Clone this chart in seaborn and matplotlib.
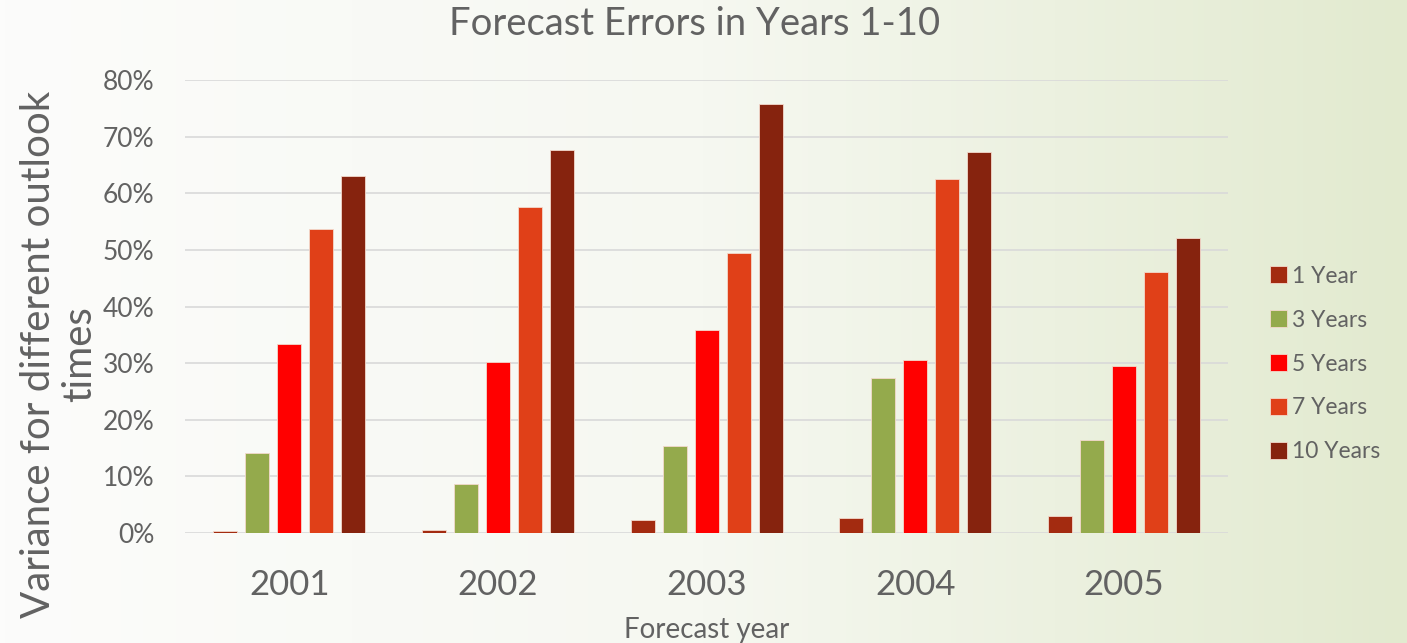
import numpy as np
import pandas as pd
import matplotlib
matplotlib.use("Agg")
import matplotlib.pyplot as plt
import seaborn as sns
from matplotlib.colors import LinearSegmentedColormap

years = ["2001", "2002", "2003", "2004", "2005"]
series = ["1 Year", "3 Years", "5 Years", "7 Years", "10 Years"]
v_1y = [0.3, 0.5, 2.3, 2.6, 3.0]
v_3y = [14.1, 8.7, 15.4, 27.3, 16.4]
v_5y = [33.4, 30.2, 35.9, 30.5, 29.5]
v_7y = [53.7, 57.6, 49.5, 62.6, 46.1]
v_10y = [63.0, 67.6, 75.7, 67.3, 52.1]
colors = ["#A32B10", "#94AA4C", "#FF0000", "#E04018", "#86230E"]
yticks = [0, 10, 20, 30, 40, 50, 60, 70, 80]

rows = []
for s, vals in zip(series, [v_1y, v_3y, v_5y, v_7y, v_10y]):
    for y, v in zip(years, vals):
        rows.append({"year": y, "outlook": s, "value": v / 100.0})
df = pd.DataFrame(rows)

sns.set_theme(style="white")
plt.rcParams["font.family"] = ["Lato", "DejaVu Sans"]
textc = "#626262"

fig = plt.figure(figsize=(14.07, 6.43), dpi=100)
# background gradient
bg = fig.add_axes([0, 0, 1, 1], zorder=-10)
grad = np.linspace(0, 1, 256).reshape(1, -1)
cmap = LinearSegmentedColormap.from_list("bg", ["#FCFCFB", "#F6F8F1", "#E2EACF"])
bg.imshow(grad, aspect="auto", cmap=cmap, extent=[0, 1, 0, 1])
bg.axis("off")

ax = fig.add_axes([0.1315, 0.171, 0.7415, 0.7046])
ax.patch.set_alpha(0)
sns.barplot(data=df, x="year", y="value", hue="outlook", hue_order=series,
            palette=colors, saturation=1, width=0.767, gap=0.25, ax=ax,
            edgecolor="#f3d9cc", linewidth=0.6, zorder=3)

ax.set_ylim(0, 0.8)
ax.set_yticks([t / 100 for t in yticks])
ax.set_yticklabels([f"{t}%" for t in yticks], fontsize=19, color=textc)
ax.tick_params(axis="x", labelsize=25, labelcolor=textc, length=0, pad=26)
ax.tick_params(axis="y", length=0, pad=22)
ax.yaxis.grid(True, color="#D9D9D9", linewidth=1.2, zorder=0)
ax.set_axisbelow(True)
for sp in ax.spines.values():
    sp.set_visible(False)

ax.set_xlabel("Forecast year", fontsize=20, color=textc)
ax.xaxis.set_label_coords(0.5, -0.185)
ax.set_ylabel("Variance for different outlook\ntimes", fontsize=29, color=textc,
              linespacing=1.15)
ax.yaxis.set_label_coords(-0.083, 0.395)
fig.text(0.494, 0.963, "Forecast Errors in Years 1-10", ha="center", va="center",
         fontsize=27.5, color=textc)

handles, labels = ax.get_legend_handles_labels()
ax.legend(handles, labels, loc="center left", bbox_to_anchor=(1.02, 0.373),
          frameon=False, fontsize=16.5, labelcolor=textc, handlelength=0.75,
          handleheight=0.75, handletextpad=0.2, labelspacing=1.0)

fig.savefig("out.png", dpi=100)
